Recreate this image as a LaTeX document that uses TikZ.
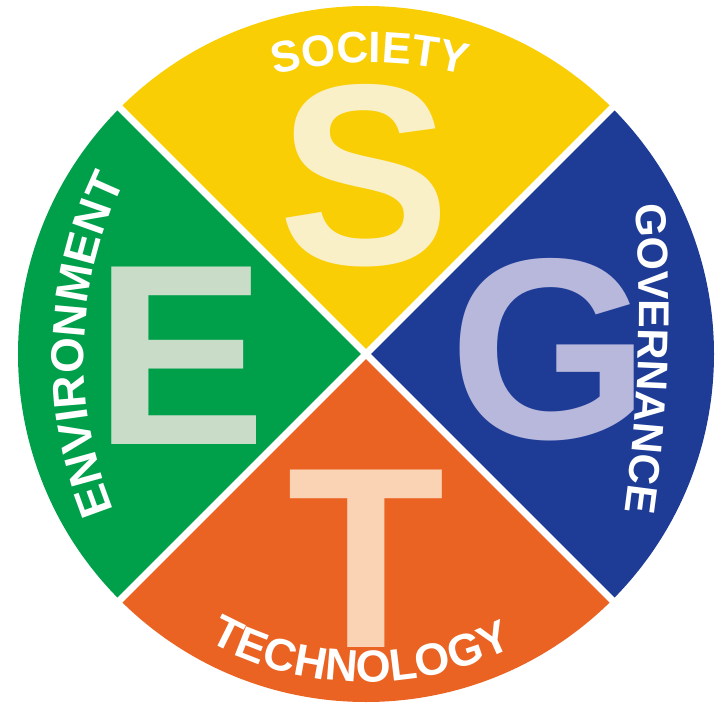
\documentclass[tikz,border=0pt]{standalone}
\usepackage{fontspec}
\setmainfont{Liberation Sans}
\usepackage{tikz}
\usetikzlibrary{decorations.text}
\definecolor{segyellow}{RGB}{249,206,5}
\definecolor{segblue}{RGB}{30,60,150}
\definecolor{segorange}{RGB}{234,99,34}
\definecolor{seggreen}{RGB}{0,160,75}
\definecolor{letterS}{RGB}{250,240,200}
\definecolor{letterG}{RGB}{184,184,220}
\definecolor{letterT}{RGB}{250,210,180}
\definecolor{letterE}{RGB}{200,220,200}
\newcommand{\bigfont}{\fontsize{258}{258}\selectfont\bfseries}
\newcommand{\ringfontS}{\fontsize{44}{44}\selectfont\bfseries\color{white}}
\newcommand{\ringfontG}{\fontsize{43}{43}\selectfont\bfseries\color{white}}
\newcommand{\ringfontT}{\fontsize{45}{45}\selectfont\bfseries\color{white}}
\newcommand{\ringfontE}{\fontsize{46}{46}\selectfont\bfseries\color{white}}
\tikzstyle{divider} = [draw=white, line width=7pt]
\tikzstyle{bigletter} = [inner sep=0pt, font=\bigfont]
\tikzstyle{ringtext} = [decorate, decoration={text along path, text align=center}]

\begin{document}
\begin{tikzpicture}[x=1pt, y=1pt]
   \useasboundingbox (-366,-355) rectangle (353,354);
   \coordinate (c) at (0,0);

   \fill[segyellow] (c) -- (135:348) arc[start angle=135, end angle=45, radius=348] -- cycle;
   \fill[segblue] (c) -- (45:348) arc[start angle=45, end angle=-45, radius=348] -- cycle;
   \fill[segorange] (c) -- (-45:348) arc[start angle=-45, end angle=-135, radius=348] -- cycle;
   \fill[seggreen] (c) -- (225:348) arc[start angle=225, end angle=135, radius=348] -- cycle;

   \foreach \a in {45,135,225,315}
      \draw[divider] (c) -- (\a:350);

   \node[bigletter, text=letterS] (s) at (-1,178) {S};
   \node[bigletter, text=letterG] (g) at (184,4) {G};
   \node[bigletter, text=letterT] (t) at (0,-205) {T};
   \node[bigletter, text=letterE] (e) at (-185,-2) {E};

   % labels round the rim
   \coordinate (socc) at (4,-94);
   \coordinate (govc) at (-1227,48);
   \coordinate (envc) at (124,-4);
   \path[ringtext, decoration={text={|\ringfontS|SOCIETY}}]
      (socc) ++(160:385) arc[start angle=160, end angle=20, radius=385];
   \path[ringtext, decoration={text={|\ringfontG|GOVERNANCE}}]
      (govc) ++(10:1500) arc[start angle=10, end angle=-14, radius=1500];
   \path[ringtext, decoration={text={|\ringfontT|TECHNOLOGY}}]
      (c) ++(199:328) arc[start angle=199, end angle=339, radius=328];
   \path[ringtext, decoration={text={|\ringfontE|ENVIRONMENT}}]
      (envc) ++(248.1:406) arc[start angle=248.1, end angle=108.1, radius=406];
\end{tikzpicture}
\end{document}
